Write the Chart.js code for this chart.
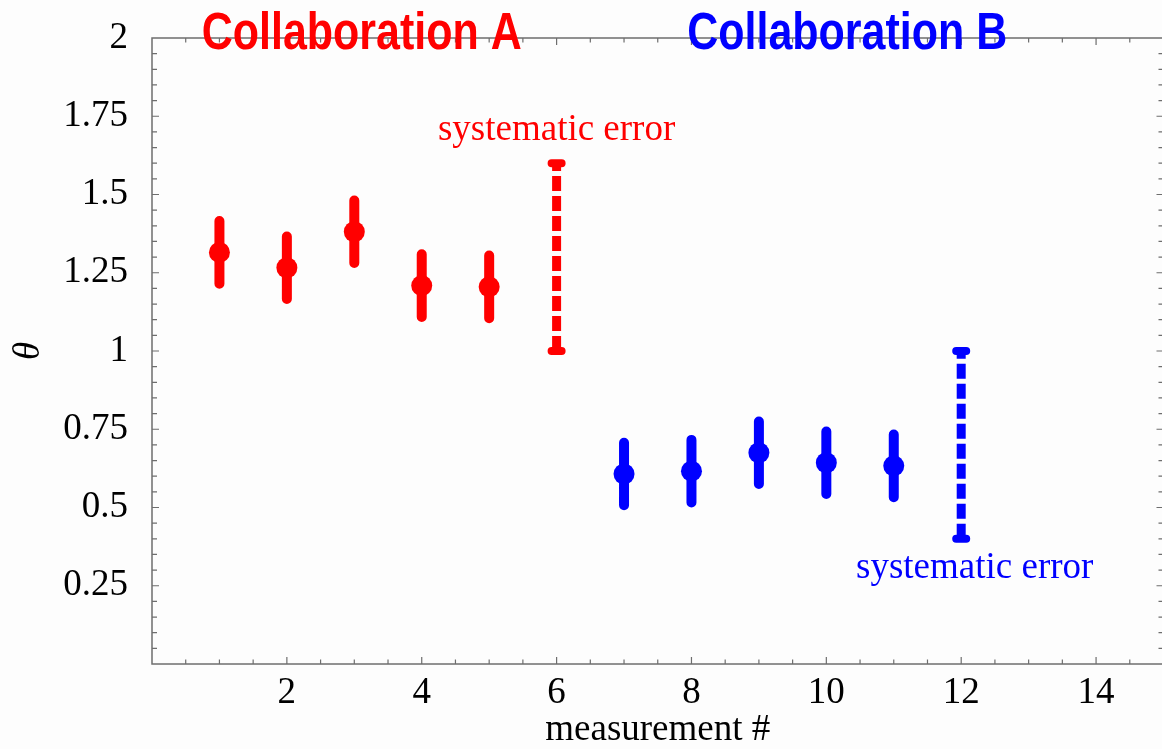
<!DOCTYPE html>
<html lang="en">

<head>
    <meta charset="UTF-8">
    <title>Collaborations</title>
    <script src="https://cdn.jsdelivr.net/npm/chart.js"></script>
    <style>
        body { margin: 0; background: #fdfdfd; overflow: hidden; }
    </style>
</head>

<body>
    <canvas id="grafico" width="1174" height="749"></canvas>
</body>

</html>

<script>

    // dados
    const xA = [1, 2, 3, 4, 5];
    const yA = [1.315, 1.266, 1.381, 1.209, 1.205];
    const errA = [0.1, 0.1, 0.1, 0.1, 0.1];

    const xB = [7, 8, 9, 10, 11];
    const yB = [0.607, 0.616, 0.675, 0.643, 0.633];
    const errB = [0.1, 0.1, 0.1, 0.1, 0.1];

    const sistA = [1.0, 1.6]; // erro sistematico em x = 6
    const sistB = [0.4, 1.0]; // erro sistematico em x = 12
    const xSistA = 6;
    const xSistB = 12;

    const xTicks = [2, 4, 6, 8, 10, 12, 14];
    const yTicks = [0.25, 0.5, 0.75, 1, 1.25, 1.5, 1.75, 2];

    // largura: largura final do texto em px (fonte condensada)
    const textos = [
        { texto: 'Collaboration A', x: 3.11, y: 1.966, cor: '#ff0000', fonte: 'bold 51px "Liberation Sans", Arial, sans-serif', largura: 320 },
        { texto: 'Collaboration B', x: 10.31, y: 1.966, cor: '#0000ff', fonte: 'bold 51px "Liberation Sans", Arial, sans-serif', largura: 320 },
        { texto: 'systematic error', x: 6.0, y: 1.673, cor: '#ff0000', fonte: '37px "Liberation Serif", serif' },
        { texto: 'systematic error', x: 12.2, y: 0.274, cor: '#0000ff', fonte: '37px "Liberation Serif", serif' }
    ];

    const serif = '"Liberation Serif", "Times New Roman", serif';

    // moldura com ticks para dentro
    const moldura = {
        id: 'moldura',
        beforeDatasetsDraw(chart) {
            const { ctx, chartArea: a, scales: { x, y } } = chart;
            ctx.save();
            ctx.strokeStyle = '#6e6e6e';
            ctx.lineWidth = 1.5;
            ctx.strokeRect(a.left, a.top, a.right - a.left, a.bottom - a.top);

            ctx.lineWidth = 1.2;
            ctx.beginPath();
            for (let v = 0.5; v < 15; v += 0.5) {
                const px = x.getPixelForValue(v);
                const len = (v % 2 === 0) ? 7 : 4.5;
                ctx.moveTo(px, a.bottom);
                ctx.lineTo(px, a.bottom - len);
                ctx.moveTo(px, a.top);
                ctx.lineTo(px, a.top + len);
            }
            for (let i = 1; i < 40; i++) {
                const v = i * 0.05;
                const py = y.getPixelForValue(v);
                const len = (i % 5 === 0) ? 7 : 5;
                ctx.moveTo(a.left, py);
                ctx.lineTo(a.left + len, py);
                ctx.moveTo(a.right, py);
                ctx.lineTo(a.right - len, py);
            }
            ctx.stroke();

            // barras de erro
            ctx.lineCap = 'round';
            ctx.lineWidth = 10;
            const barras = (xs, ys, es, cor) => {
                ctx.strokeStyle = cor;
                ctx.beginPath();
                xs.forEach((xv, i) => {
                    const px = x.getPixelForValue(xv);
                    ctx.moveTo(px, y.getPixelForValue(ys[i] - es[i]));
                    ctx.lineTo(px, y.getPixelForValue(ys[i] + es[i]));
                });
                ctx.stroke();
            };
            barras(xA, yA, errA, '#ff0000');
            barras(xB, yB, errB, '#0000ff');

            // tampas do erro sistematico
            ctx.lineWidth = 8;
            const tampas = (xv, vals, cor) => {
                ctx.strokeStyle = cor;
                ctx.beginPath();
                vals.forEach(v => {
                    const px = x.getPixelForValue(xv);
                    const py = y.getPixelForValue(v);
                    ctx.moveTo(px - 5, py);
                    ctx.lineTo(px + 5, py);
                });
                ctx.stroke();
            };
            tampas(xSistA, sistA, '#ff0000');
            tampas(xSistB, sistB, '#0000ff');
            ctx.restore();
        },
        afterDatasetsDraw(chart) {
            const { ctx, scales: { x, y } } = chart;
            textos.forEach(t => {
                ctx.save();
                ctx.font = t.fonte;
                ctx.fillStyle = t.cor;
                ctx.textAlign = 'center';
                ctx.textBaseline = 'alphabetic';
                ctx.translate(x.getPixelForValue(t.x), y.getPixelForValue(t.y));
                if (t.largura) {
                    ctx.scale(t.largura / ctx.measureText(t.texto).width, 1);
                }
                ctx.fillText(t.texto, 0, 0);
                ctx.restore();
            });
        }
    };

    const data = {
        datasets: [
            {
                label: 'A',
                data: xA.map((v, i) => ({ x: v, y: yA[i] })),
                backgroundColor: '#ff0000',
                borderWidth: 0,
                pointRadius: 10.5
            },
            {
                label: 'B',
                data: xB.map((v, i) => ({ x: v, y: yB[i] })),
                backgroundColor: '#0000ff',
                borderWidth: 0,
                pointRadius: 10.5
            },
            {
                label: 'sist A',
                type: 'line',
                data: sistA.map(v => ({ x: xSistA, y: v })),
                borderColor: '#ff0000',
                borderWidth: 9,
                borderDash: [15, 5],
                borderCapStyle: 'butt',
                pointRadius: 0
            },
            {
                label: 'sist B',
                type: 'line',
                data: sistB.map(v => ({ x: xSistB, y: v })),
                borderColor: '#0000ff',
                borderWidth: 9,
                borderDash: [15, 5],
                borderCapStyle: 'butt',
                pointRadius: 0
            }
        ]
    };

    const options = {
        responsive: false,
        animation: false,
        layout: { padding: { top: 38, right: 3.5, left: 0, bottom: 0 } },
        plugins: { legend: { display: false }, tooltip: { enabled: false } },
        scales: {
            x: {
                type: 'linear',
                min: 0,
                max: 15,
                grid: { display: false, drawTicks: false },
                border: { display: false },
                afterBuildTicks: (scale) => { scale.ticks = xTicks.map(v => ({ value: v })); },
                afterFit: (scale) => {
                    scale.height = 85;
                    scale.paddingLeft = 0;
                    scale.paddingRight = 0;
                },
                ticks: {
                    color: '#000',
                    padding: 7,
                    maxRotation: 0,
                    font: { family: serif, size: 37 },
                    callback: (v) => String(v)
                },
                title: {
                    display: true,
                    text: 'measurement #',
                    color: '#000',
                    padding: { top: 0, bottom: -3 },
                    font: { family: serif, size: 37 }
                }
            },
            y: {
                min: 0,
                max: 2,
                grid: { display: false, drawTicks: false },
                border: { display: false },
                afterBuildTicks: (scale) => { scale.ticks = yTicks.map(v => ({ value: v })); },
                afterFit: (scale) => {
                    scale.width = 152;
                    scale.paddingTop = 0;
                    scale.paddingBottom = 0;
                },
                ticks: {
                    color: '#000',
                    padding: 24,
                    font: { family: serif, size: 37 },
                    callback: (v) => String(v)
                },
                title: {
                    display: true,
                    text: 'θ',
                    color: '#000',
                    padding: { top: 7, bottom: 0 },
                    font: { family: serif, size: 37, style: 'italic' }
                }
            }
        }
    };

    let ctx = document.getElementById('grafico').getContext('2d');

    let grafico = new Chart(ctx, {
        type: 'scatter',
        data: data,
        options: options,
        plugins: [moldura]
    });

</script>
